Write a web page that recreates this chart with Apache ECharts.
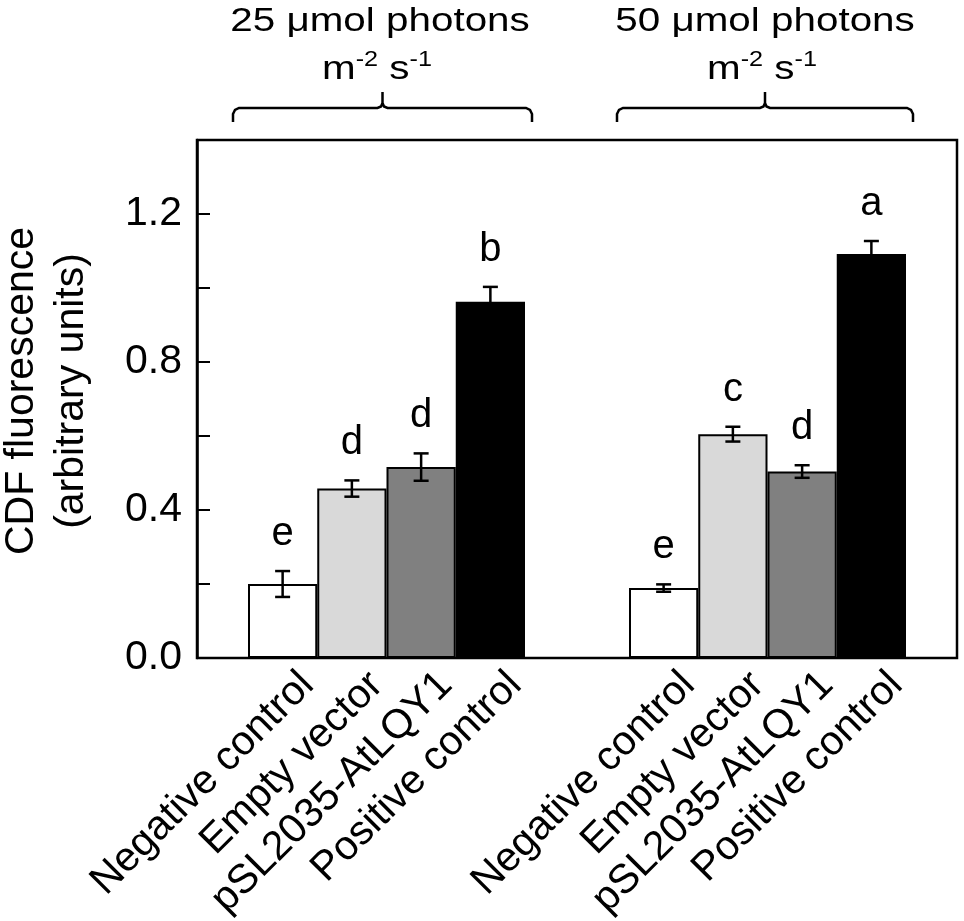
<!DOCTYPE html>
<html>
<head>
<meta charset="utf-8">
<title>CDF fluorescence</title>
<script src="https://cdn.jsdelivr.net/npm/echarts@6/dist/echarts.min.js"></script>
<style>
html, body { margin: 0; padding: 0; background: #fff; }
#main { width: 964px; height: 921px; }
</style>
</head>
<body>
<div id="main"></div>
<script>
// 数据
var categories = ['Negative control', 'Empty vector', 'pSL2035-AtLQY1', 'Positive control'];
var values25 = [0.200, 0.458, 0.516, 0.963];
var errors25 = [0.035, 0.022, 0.037, 0.040];
var letters25 = ['e', 'd', 'd', 'b'];
var values50 = [0.189, 0.605, 0.504, 1.092];
var errors50 = [0.010, 0.020, 0.017, 0.035];
var letters50 = ['e', 'c', 'd', 'a'];
var yTicks = [0.0, 0.4, 0.8, 1.2];
var groupTitles = ['25 μmol photons', '50 μmol photons'];
var barColors = ['#ffffff', '#d9d9d9', '#808080', '#000000'];

var FONT = "'Liberation Sans', Arial, sans-serif";

var myChart = echarts.init(document.getElementById('main'));

// 柱子
function barSeries(idx, values) {
	return {
		type: 'bar',
		xAxisIndex: idx,
		yAxisIndex: idx,
		barWidth: '100%',
		silent: true,
		data: values.map(function(v, i) {
			return { value: v, itemStyle: { color: barColors[i] } };
		}),
		itemStyle: { borderColor: '#000', borderWidth: 2 }
	};
}

// 误差线 + 字母
function errSeries(idx, values, errors, letters) {
	return {
		type: 'custom',
		xAxisIndex: idx,
		yAxisIndex: idx,
		z: 5,
		silent: true,
		data: values.map(function(v, i) { return [i, v, errors[i]]; }),
		renderItem: function(params, api) {
			var i = api.value(0), v = api.value(1), e = api.value(2);
			var top = api.coord([i, v + e]);
			var bot = api.coord([i, v - e]);
			var cap = 7.5;
			var st = { stroke: '#000', lineWidth: 2.5 };
			return {
				type: 'group',
				children: [
					{ type: 'line', shape: { x1: top[0], y1: top[1], x2: bot[0], y2: bot[1] }, style: st },
					{ type: 'line', shape: { x1: top[0] - cap, y1: top[1], x2: top[0] + cap, y2: top[1] }, style: st },
					{ type: 'line', shape: { x1: bot[0] - cap, y1: bot[1], x2: bot[0] + cap, y2: bot[1] }, style: st },
					{
						type: 'text', x: top[0], y: top[1] - 17,
						style: {
							text: letters[params.dataIndex], fill: '#000',
							font: '40px ' + FONT, align: 'center', verticalAlign: 'bottom'
						}
					}
				]
			};
		}
	};
}

function groupXAxis(idx) {
	return {
		type: 'category',
		gridIndex: idx,
		data: categories,
		boundaryGap: true,
		axisLine: { show: false },
		axisTick: { show: false },
		axisLabel: {
			interval: 0,
			rotate: 45,
			margin: -4,
			align: 'right',
			verticalAlign: 'top',
			lineHeight: 70,
			color: '#000',
			fontSize: 41,
			fontFamily: FONT
		}
	};
}

function groupYAxis(idx) {
	return { type: 'value', gridIndex: idx, min: 0, max: 1.4, show: false };
}

// 上方的括号（折线近似圆角）
function bracket(x1, x2, y) {
	var xc = (x1 + x2) / 2;
	return {
		type: 'polyline',
		shape: {
			points: [
				[x1, y + 14], [x1, y + 6], [x1 + 2, y + 2], [x1 + 6, y],
				[xc - 5, y], [xc - 1.5, y - 1.5], [xc, y - 5], [xc, y - 16],
				[xc, y - 5], [xc + 1.5, y - 1.5], [xc + 5, y],
				[x2 - 6, y], [x2 - 2, y + 2], [x2, y + 6], [x2, y + 14]
			]
		},
		style: { stroke: '#000', lineWidth: 2.5, fill: null }
	};
}

// 组标题，字形略压扁以贴近原图
function header(x, title) {
	return [
		{
			type: 'text', x: x, y: 22, scaleX: 1.01, scaleY: 0.85,
			style: { text: title, fill: '#000', font: '40px ' + FONT, align: 'center', verticalAlign: 'middle' }
		},
		{
			type: 'text', x: x - 3, y: 68, scaleX: 1.01, scaleY: 0.85,
			style: {
				text: '{m|m}{s|-2}{m| s}{s|-1}',
				align: 'center', verticalAlign: 'middle', fill: '#000',
				rich: {
					m: { fontSize: 40, fontFamily: FONT, lineHeight: 44, verticalAlign: 'bottom', fill: '#000' },
					s: { fontSize: 25, fontFamily: FONT, lineHeight: 25, verticalAlign: 'top', fill: '#000' }
				}
			}
		}
	];
}

var option = {
	animation: false,
	backgroundColor: '#fff',
	grid: [
		{ left: 197, top: 140, width: 760, height: 518, show: true, borderColor: '#000', borderWidth: 2.5, outerBoundsMode: 'none' },
		{ left: 248, top: 140, width: 277, height: 518, outerBoundsMode: 'none' },
		{ left: 629, top: 140, width: 277, height: 518, outerBoundsMode: 'none' }
	],
	xAxis: [
		{ type: 'value', gridIndex: 0, min: 0, max: 1, show: false },
		groupXAxis(1),
		groupXAxis(2)
	],
	yAxis: [
		{
			type: 'value',
			gridIndex: 0,
			min: 0,
			max: 1.4,
			interval: 0.2,
			axisLine: { show: true, lineStyle: { color: '#000', width: 2.5 } },
			axisTick: { show: true, inside: true, length: 13, lineStyle: { color: '#000', width: 2 } },
			splitLine: { show: false },
			axisLabel: {
				margin: 15,
				color: '#000',
				fontSize: 41,
				fontFamily: FONT,
				formatter: function(v) {
					for (var k = 0; k < yTicks.length; k++) {
						if (Math.abs(v - yTicks[k]) < 1e-6) return yTicks[k].toFixed(1);
					}
					return '';
				}
			},
			name: 'CDF fluorescence\n(arbitrary units)',
			nameLocation: 'middle',
			nameRotate: 90,
			nameGap: 100,
			nameTextStyle: { color: '#000', fontSize: 41, lineHeight: 50, fontFamily: FONT, padding: [0, 0, 0, 16] }
		},
		groupYAxis(1),
		groupYAxis(2)
	],
	graphic: [
		bracket(233, 532, 108),
		bracket(617, 913, 108)
	].concat(header(380, groupTitles[0]), header(765, groupTitles[1])),
	series: [
		barSeries(1, values25),
		barSeries(2, values50),
		errSeries(1, values25, errors25, letters25),
		errSeries(2, values50, errors50, letters50)
	]
};

myChart.setOption(option);
</script>
</body>
</html>
